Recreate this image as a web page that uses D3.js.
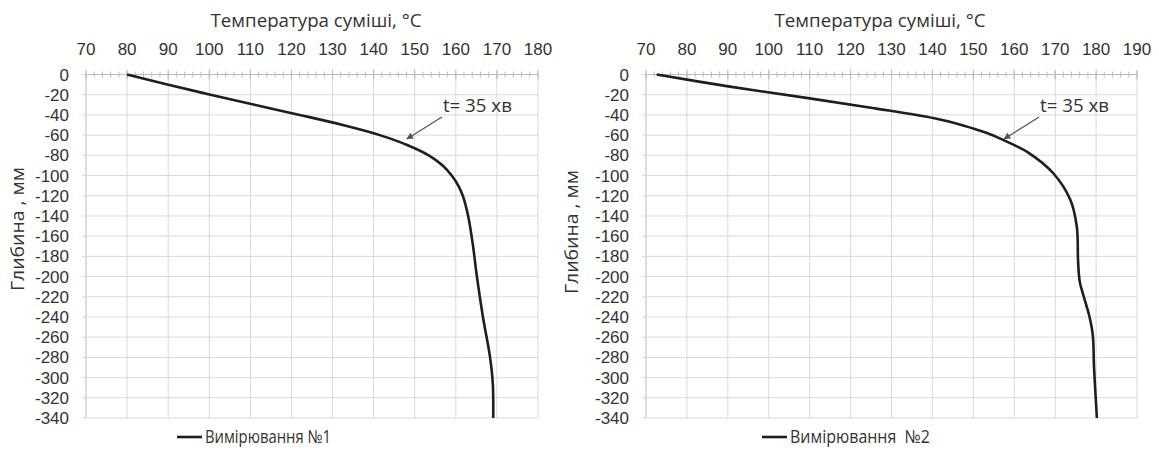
<!DOCTYPE html>
<html><head><meta charset="utf-8">
<script src="https://cdn.jsdelivr.net/npm/d3@7"></script>
<style>
html,body{margin:0;padding:0;background:#fff;}
svg{display:block;}
text{font-family:"Open Sans","Noto Sans",sans-serif;fill:#333;}
text.tick{font-family:"Liberation Sans",Arial,sans-serif;}
</style></head>
<body>
<svg id="chart" width="1159" height="450"></svg>
<script>
// ---- data ----
const xTitle = "Температура суміші, °C";
const yTitle = "Глибина , мм";
const annotation = "t= 35 хв";
const tempTicks1 = [70, 80, 90, 100, 110, 120, 130, 140, 150, 160, 170, 180];
const tempTicks2 = [70, 80, 90, 100, 110, 120, 130, 140, 150, 160, 170, 180, 190];
const depthTicks = [0, -20, -40, -60, -80, -100, -120, -140, -160, -180, -200, -220, -240, -260, -280, -300, -320, -340];
const seriesName1 = "Вимірювання №1";
const seriesName2 = "Вимірювання  №2";
const temp1  = [80, 89.8, 100.3, 111, 122, 132.5, 141.5, 148.3, 153.4, 156.8, 159, 160.6, 161.7, 163, 164.2, 165, 166.6, 168.3, 169, 169.1];
const depth1 = [0, -10, -20, -30, -40, -50, -60, -70, -80, -90, -100, -110, -120, -140, -170, -196, -240, -279, -306, -340];
const temp2  = [72.6, 90.5, 110, 126, 140.5, 147.5, 153, 157, 163.7, 169.6, 173.7, 175.3, 175.6, 176.0, 177.0, 178.4, 179.2, 179.5, 180.2];
const depth2 = [0, -12, -23.6, -33.5, -43.4, -50.5, -57.5, -64.2, -78, -98, -124, -151, -185, -205, -220, -240, -258, -290, -340];
// annotation arrow tips
const arrowTarget1 = [148.1, -63.8];
const arrowTarget2 = [157.5, -63.8];

const svg = d3.select("#chart");

function drawPanel(o) {
  const g = svg.append("g");
  const x = d3.scaleLinear().domain([o.ticks[0], o.ticks[o.ticks.length - 1]]).range([o.x0, o.x1]);
  const y = d3.scaleLinear().domain([0, -340]).range([74.5, 418]);

  const minor = d3.range(o.ticks[0], o.ticks[o.ticks.length - 1] + 0.01, 2);
  // major vertical grid
  g.append("g").selectAll("line").data(o.ticks).join("line")
    .attr("x1", d => x(d)).attr("x2", d => x(d))
    .attr("y1", y(0)).attr("y2", y(-340))
    .attr("stroke", "#d9d9d9").attr("stroke-width", 1);
  // horizontal grid
  g.append("g").selectAll("line").data(depthTicks).join("line")
    .attr("x1", x.range()[0] - 4).attr("x2", x.range()[1])
    .attr("y1", d => y(d)).attr("y2", d => y(d))
    .attr("stroke", "#d9d9d9").attr("stroke-width", 1);
  // left axis line
  g.append("line").attr("x1", x.range()[0]).attr("x2", x.range()[0])
    .attr("y1", y(0)).attr("y2", y(-340)).attr("stroke", "#cfcfcf");
  // top axis line with minor ticks
  g.append("line").attr("x1", x.range()[0]).attr("x2", x.range()[1])
    .attr("y1", y(0)).attr("y2", y(0)).attr("stroke", "#bdbdbd");
  g.append("g").selectAll("line").data(minor).join("line")
    .attr("x1", d => x(d)).attr("x2", d => x(d))
    .attr("y1", y(0) - 3).attr("y2", y(0) + 3)
    .attr("stroke", "#bdbdbd");
  g.append("g").selectAll("line").data(o.ticks).join("line")
    .attr("x1", d => x(d)).attr("x2", d => x(d))
    .attr("y1", y(0) - 5).attr("y2", y(0) + 5)
    .attr("stroke", "#bdbdbd");

  // x tick labels (top)
  g.append("g").selectAll("text").data(o.ticks).join("text")
    .attr("class", "tick")
    .attr("x", d => x(d)).attr("y", 55)
    .attr("text-anchor", "middle").attr("font-size", 17)
    .text(d => d);
  // y tick labels
  g.append("g").selectAll("text").data(depthTicks).join("text")
    .attr("class", "tick")
    .attr("x", x.range()[0] - 17).attr("y", d => y(d) + 6)
    .attr("text-anchor", "end").attr("font-size", 17)
    .text(d => d);

  // x title
  g.append("text").attr("x", o.titleX).attr("y", 27)
    .attr("text-anchor", "middle").attr("font-size", 18)
    .attr("textLength", 211).attr("lengthAdjust", "spacingAndGlyphs").text(xTitle);
  // y title
  g.append("text").attr("transform", `translate(${o.yTitleX},${o.yTitleY}) rotate(-90)`)
    .attr("text-anchor", "middle").attr("font-size", 19)
    .attr("textLength", 124).attr("lengthAdjust", "spacingAndGlyphs").text(yTitle);

  // series line
  const pts = o.temp.map((t, i) => [t, o.depth[i]]);
  const line = d3.line().x(d => x(d[0])).y(d => y(d[1])).curve(d3.curveCatmullRom.alpha(0.5));
  g.append("path").attr("d", line(pts)).attr("fill", "none")
    .attr("stroke", "#1e1e1e").attr("stroke-width", 2.6).attr("stroke-linejoin", "round");

  // annotation arrow
  const tx = x(o.arrowTarget[0]), ty = y(o.arrowTarget[1]);
  const sx = tx + 35, sy = ty - 22;
  g.append("line").attr("x1", sx).attr("y1", sy).attr("x2", tx).attr("y2", ty)
    .attr("stroke", "#555").attr("stroke-width", 1.2).attr("marker-end", "url(#arr)");
  g.append("text").attr("x", sx + 1).attr("y", sy - 5).attr("font-size", 18).attr("fill", "#333")
    .attr("textLength", 69).attr("lengthAdjust", "spacingAndGlyphs").text(annotation);

  // legend
  g.append("line").attr("x1", o.legX).attr("x2", o.legX + 25)
    .attr("y1", 437).attr("y2", 437).attr("stroke", "#1e1e1e").attr("stroke-width", 2.6);
  g.append("text").attr("x", o.legX + 28).attr("y", 443).attr("font-size", 18)
    .attr("textLength", o.legLen).attr("lengthAdjust", "spacingAndGlyphs")
    .style("white-space", "pre").text(o.name);
}

svg.append("defs").append("marker").attr("id", "arr")
  .attr("viewBox", "0 0 10 10").attr("refX", 9).attr("refY", 5)
  .attr("markerWidth", 7).attr("markerHeight", 7).attr("markerUnits", "userSpaceOnUse").attr("orient", "auto")
  .append("path").attr("d", "M0,0 L10,5 L0,10 Z").attr("fill", "#555");

drawPanel({ ticks: tempTicks1, x0: 86, x1: 538, temp: temp1, depth: depth1, arrowTarget: arrowTarget1,
  titleX: 316, yTitleX: 24, yTitleY: 229, legX: 177, name: seriesName1, legLen: 126 });
drawPanel({ ticks: tempTicks2, x0: 646, x1: 1137, temp: temp2, depth: depth2, arrowTarget: arrowTarget2,
  titleX: 880, yTitleX: 578, yTitleY: 232, legX: 762, name: seriesName2, legLen: 140 });
</script>
</body></html>
